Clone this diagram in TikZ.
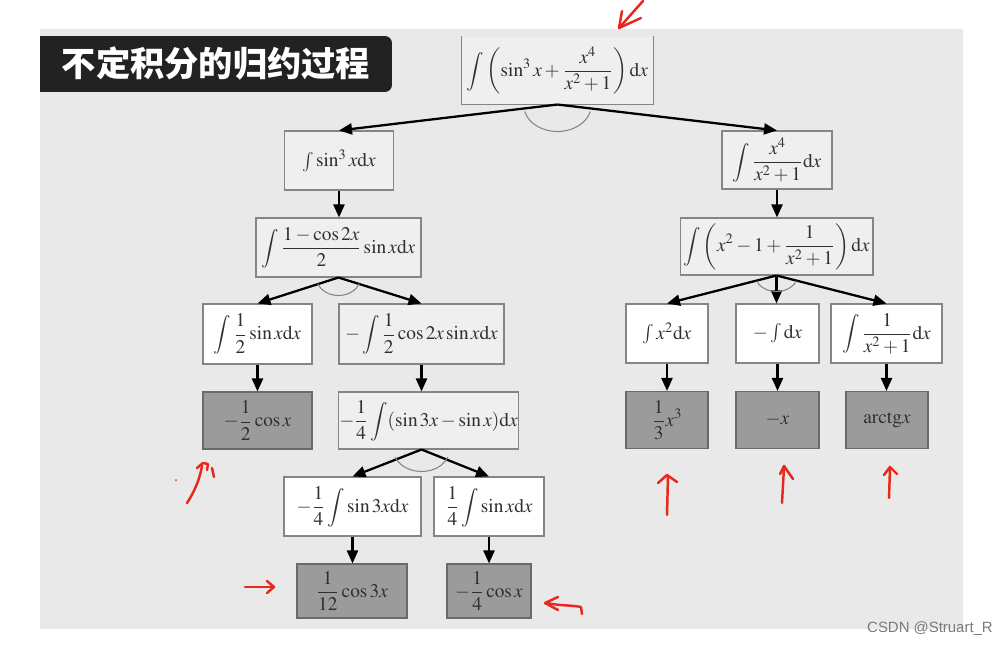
\documentclass[tikz,border=0pt]{standalone}
\usepackage{mathptmx}
\usepackage[no-math]{fontspec}
\setmainfont{Liberation Serif}
\newfontfamily\cjkfont{Noto Sans CJK SC}
\newfontfamily\wmfont{Liberation Sans}
\usetikzlibrary{
  arrows.meta,
  positioning,
  calc
}
\definecolor{rdPanel}{HTML}{E9E9E9}
\definecolor{rdLight}{HTML}{EFEFEF}
\definecolor{rdDark}{HTML}{9B9B9B}
\definecolor{rdEdge}{HTML}{858585}
\definecolor{rdInk}{HTML}{303030}
\definecolor{rdTitle}{HTML}{222222}
\definecolor{rdRed}{HTML}{E8281C}
\definecolor{rdMark}{HTML}{7A7A7A}
\tikzset{
  rdnode/.style={
    draw=rdEdge, line width=0.6pt, inner sep=0.5pt, text=rdInk,
    font=\fontsize{11}{13}\selectfont
  },
  lightbox/.style={rdnode, fill=rdLight},
  whitebox/.style={rdnode, fill=white},
  darkbox/.style={rdnode, fill=rdDark, draw=rdEdge!80!black},
  treearrow/.style={-{Triangle[length=2.6mm, width=2.2mm]}, line width=1.3pt, black},
  joinarc/.style={draw=rdEdge, line width=0.6pt},
  scribble/.style={rdRed, line width=1.4pt, line cap=round, line join=round},
  titlebox/.style={
    fill=rdTitle, text=white, rounded corners=4pt,
    font=\cjkfont\bfseries\fontsize{19.5}{20}\selectfont
  }
}
\newcommand{\dx}{\mathrm{d}x}

\begin{document}
\begin{tikzpicture}[x=0.02cm, y=-0.02cm]
  \useasboundingbox (0,0) rectangle (1004,645);
  \fill[rdPanel] (40,29) rectangle (963,629);

  % title
  \node[titlebox, minimum width=7.04cm, minimum height=1.12cm] (title) at (216,64) {不定积分的归约过程};
  \fill[rdTitle] (title.north west) rectangle ([xshift=6pt]title.south west);

  % root (no top edge)
  \node[lightbox, draw=none, minimum width=3.82cm, minimum height=1.34cm] (root) at (557.5,70.5)
    {$\displaystyle\int\left(\sin^3x+\frac{x^4}{x^2+1}\right)\dx$};
  \draw[draw=rdEdge, line width=0.6pt] (root.north west) -- (root.south west) -- (root.south east) -- (root.north east);

  % left branch
  \node[lightbox, minimum width=2.18cm, minimum height=1.18cm] (sinCube) at (339,160.5) {$\int\sin^3x\dx$};
  \node[lightbox, minimum width=3.3cm, minimum height=1.18cm] (halfForm) at (338.5,247.5)
    {$\displaystyle\int\frac{1-\cos2x}{2}\sin x\dx$};
  \node[whitebox, minimum width=2.18cm, minimum height=1.2cm] (halfSin) at (257.5,334)
    {$\displaystyle\int\frac12\sin x\dx$};
  \node[lightbox, minimum width=3.3cm, minimum height=1.2cm] (cosSin) at (421.5,334)
    {$\displaystyle-\int\frac12\cos2x\sin x\dx$};
  \node[darkbox, minimum width=2.18cm, minimum height=1.14cm] (resHalf) at (257.5,420.5)
    {$\displaystyle-\frac12\cos x$};
  \node[lightbox, minimum width=3.58cm, minimum height=1.14cm] (diffForm) at (428.5,420.5)
    {$\displaystyle-\frac14\int(\sin3x-\sin x)\dx$};
  \node[whitebox, minimum width=2.74cm, minimum height=1.18cm] (sinTri) at (352.5,506.5)
    {$\displaystyle-\frac14\int\sin3x\dx$};
  \node[whitebox, minimum width=2.2cm, minimum height=1.18cm] (sinOne) at (489,506.5)
    {$\displaystyle\frac14\int\sin x\dx$};
  \node[darkbox, minimum width=2.2cm, minimum height=1.08cm] (resTri) at (352,591)
    {$\displaystyle\frac1{12}\cos3x$};
  \node[darkbox, minimum width=1.68cm, minimum height=1.08cm] (resOne) at (489,591)
    {$\displaystyle-\frac14\cos x$};

  % right branch
  \node[lightbox, minimum width=2.2cm, minimum height=1.16cm] (ratio) at (777,160)
    {$\displaystyle\int\frac{x^4}{x^2+1}\dx$};
  \node[lightbox, minimum width=3.86cm, minimum height=1.14cm] (polyForm) at (776.5,246.5)
    {$\displaystyle\int\left(x^2-1+\frac{1}{x^2+1}\right)\dx$};
  \node[whitebox, minimum width=1.64cm, minimum height=1.18cm] (xSq) at (667,333.5) {$\int x^2\dx$};
  \node[whitebox, minimum width=1.66cm, minimum height=1.18cm] (one) at (777.5,333.5) {$-\int\dx$};
  \node[whitebox, minimum width=2.22cm, minimum height=1.18cm] (arcPart) at (886.5,333.5)
    {$\displaystyle\int\frac{1}{x^2+1}\dx$};
  \node[darkbox, minimum width=1.64cm, minimum height=1.14cm] (resCube) at (667,420) {$\displaystyle\frac13x^3$};
  \node[darkbox, minimum width=1.66cm, minimum height=1.14cm] (resX) at (777.5,420) {$-x$};
  \node[darkbox, minimum width=1.64cm, minimum height=1.14cm] (resArc) at (887,420) {$\mathrm{arctg}x$};

  % reduction arrows
  \draw[treearrow] (root.south) -- (sinCube.north);
  \draw[treearrow] (root.south) -- (ratio.north);
  \draw[treearrow] (sinCube.south) -- (halfForm.north -| sinCube.south);
  \draw[treearrow] (halfForm.south) -- (halfSin.north);
  \draw[treearrow] (halfForm.south) -- (cosSin.north);
  \draw[treearrow] (halfSin.south) -- (resHalf.north);
  \draw[treearrow] (cosSin.south) -- (diffForm.north -| cosSin.south);
  \coordinate (diffApex) at (diffForm.south -| cosSin.south);
  \draw[treearrow] (diffApex) -- (sinTri.north);
  \draw[treearrow] (diffApex) -- (sinOne.north);
  \draw[treearrow] (sinTri.south) -- (resTri.north -| sinTri.south);
  \draw[treearrow] (sinOne.south) -- (resOne.north);
  \draw[treearrow] (ratio.south) -- (polyForm.north -| ratio.south);
  \draw[treearrow] (polyForm.south) -- (xSq.north);
  \draw[treearrow] (polyForm.south) -- (one.north -| polyForm.south);
  \draw[treearrow] (polyForm.south) -- (arcPart.north);
  \draw[treearrow] (xSq.south) -- (resCube.north);
  \draw[treearrow] (one.south) -- (resX.north -| one.south);
  \draw[treearrow] (arcPart.south) -- (resArc.north -| arcPart.south);

  % "and" arcs
  \draw[joinarc] (root.south) ++(165:34 and 27) arc[start angle=165, end angle=15, x radius=34, y radius=27];
  \draw[joinarc] (halfForm.south) ++(160:22 and 18) arc[start angle=160, end angle=20, x radius=22, y radius=18];
  \draw[joinarc] (polyForm.south) ++(160:21 and 16) arc[start angle=160, end angle=20, x radius=21, y radius=16];
  \draw[joinarc] (diffApex) ++(160:28 and 22) arc[start angle=160, end angle=20, x radius=28, y radius=22];

  % hand-drawn marks
  \draw[scribble] (643,1) -- (619,28);
  \draw[scribble] (622,11) -- (619,28) -- (641,18);
  \draw[scribble] (187,503) .. controls (195,491) and (200,478) .. (202,466);
  \draw[scribble] (197,468) -- (203,463) -- (208,464) -- (207,470);
  \draw[scribble] (212,468) -- (214,477);
  \fill[rdRed] (176,480) circle[radius=1];
  \draw[scribble] (667,515) -- (668,476);
  \draw[scribble] (658,483) -- (667,475) -- (677,482);
  \draw[scribble] (782,503) -- (784,467);
  \draw[scribble] (780,474) -- (784,466) -- (793,479);
  \draw[scribble] (889,498) -- (890,468);
  \draw[scribble] (884,475) -- (890,467) -- (897,474);
  \draw[scribble] (245,587) -- (273,587);
  \draw[scribble] (267,581) -- (274,587) -- (267,593);
  \draw[scribble] (558,597) -- (545,603) -- (558,610);
  \draw[scribble] (547,603) .. controls (560,606) and (572,605) .. (581,607) -- (582,614);

  \node[font=\wmfont\fontsize{8.5}{10}\selectfont, text=rdMark] (mark) at (930,629) {CSDN @Struart\_R};
\end{tikzpicture}
\end{document}
